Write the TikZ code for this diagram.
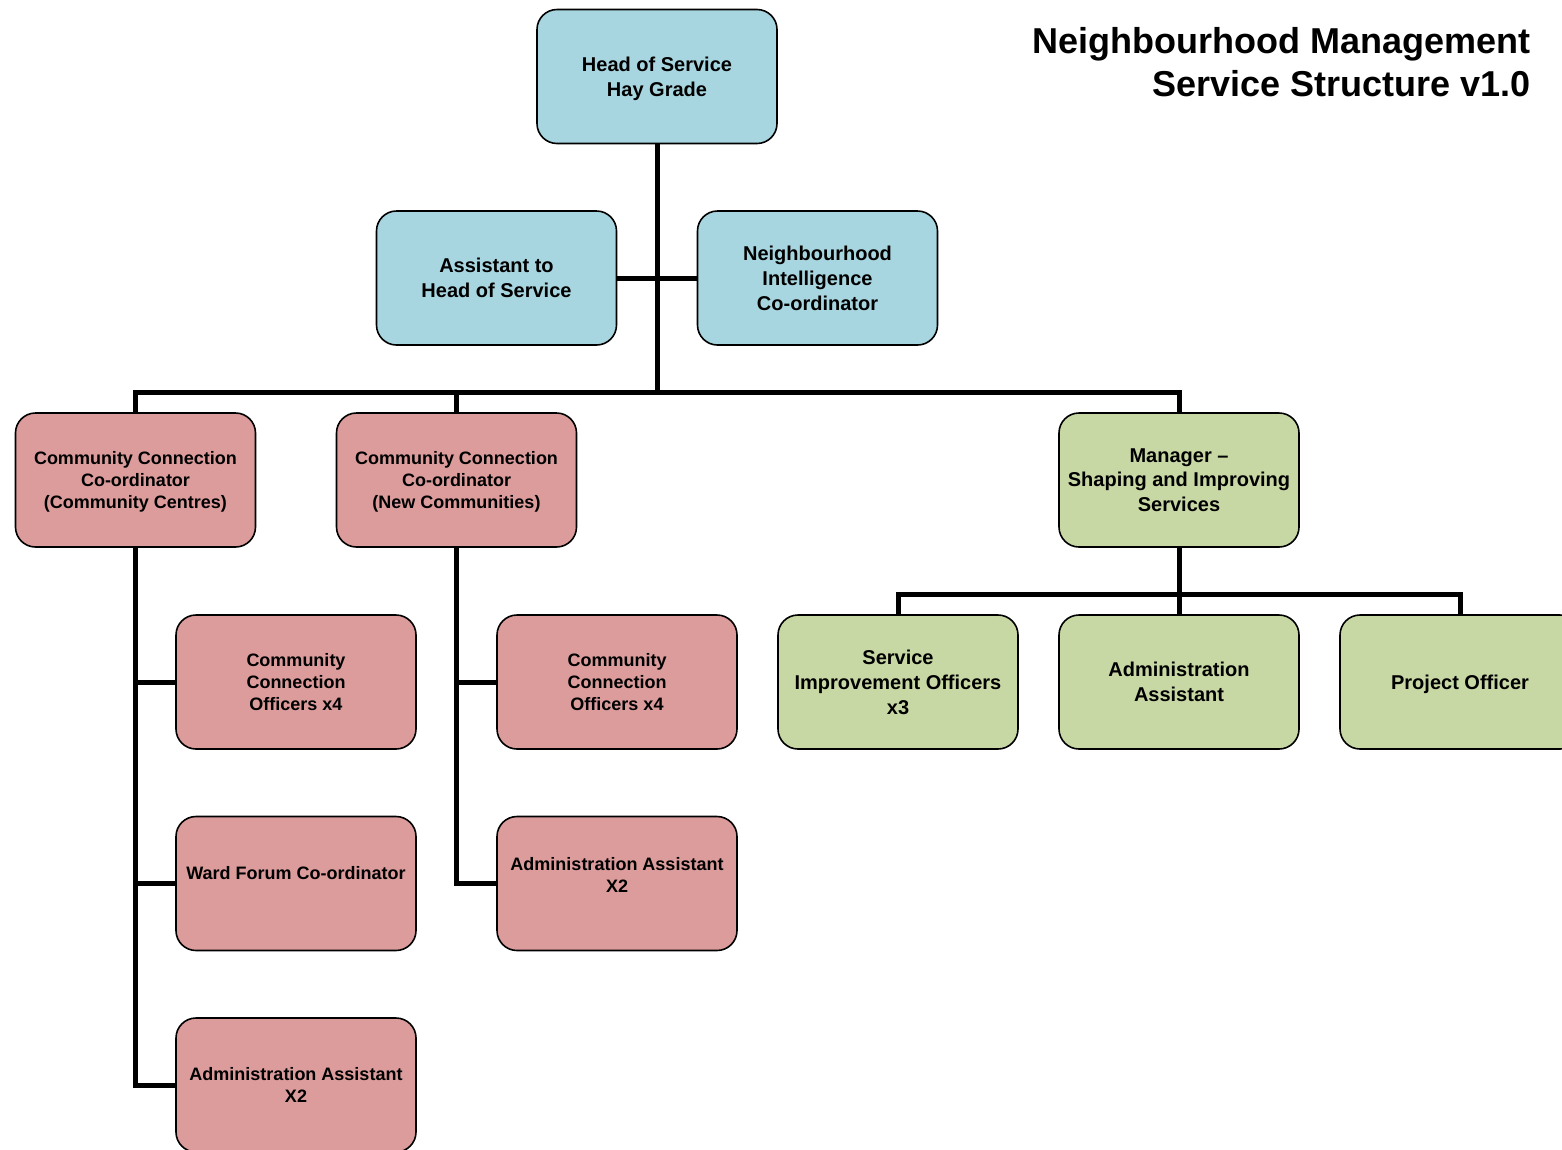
\documentclass[tikz,border=0pt]{standalone}
\usepackage{fontspec}
\setmainfont{Liberation Sans}
\definecolor{bluebox}{RGB}{168,214,224}
\definecolor{pinkbox}{RGB}{220,156,156}
\definecolor{greenbox}{RGB}{200,216,164}
\tikzset{
  orgbox/.style={draw=black, line width=1.6pt, rounded corners=20pt,
    minimum width=240pt, minimum height=134pt, inner sep=2pt, align=center,
    text=black, text depth=0pt},
  bigtxt/.style={font=\fontsize{20}{24.8}\selectfont\bfseries},
  smalltxt/.style={font=\fontsize{18}{22}\selectfont\bfseries},
  bluestyle/.style={orgbox, fill=bluebox, bigtxt},
  pinkstyle/.style={orgbox, fill=pinkbox, smalltxt},
  greenstyle/.style={orgbox, fill=greenbox, bigtxt},
  conn/.style={line width=5pt, draw=black},
}
\begin{document}
\begin{tikzpicture}[x=1pt, y=-1pt]
\useasboundingbox (0,0) rectangle (1562,1149);

% title
\node[anchor=east, align=right, inner sep=0pt,
  font=\fontsize{36}{43}\selectfont\bfseries] (title) at (1531,62.5)
  {Neighbourhood Management\\Service Structure v1.0};

% connectors (drawn first, boxes on top)
\coordinate (bus) at (657,392);
\coordinate (mbus) at (1179,594);

% boxes
\node[bluestyle] (head) at (657,76.5) {Head of Service\\Hay Grade};
\node[bluestyle] (asst) at (496.5,278) {Assistant to\\Head of Service};
\node[bluestyle] (ni) at (817.5,278) {Neighbourhood\\Intelligence\\Co-ordinator};

\node[pinkstyle] (cc1) at (135.5,480) {Community Connection\\Co-ordinator\\(Community Centres)};
\node[pinkstyle] (cc2) at (456.5,480) {Community Connection\\Co-ordinator\\(New Communities)};
\node[greenstyle] (mgr) at (1179,480) {Manager --\\Shaping and Improving\\Services};

\node[pinkstyle] (cco1) at (296,682) {Community\\Connection\\Officers x4};
\node[pinkstyle] (cco2) at (617,682) {Community\\Connection\\Officers x4};
\node[greenstyle] (sio) at (898,682) {Service\\Improvement Officers\\x3};
\node[greenstyle] (aag) at (1179,682) {Administration\\Assistant};
\node[greenstyle] (po) at (1460,682) {Project Officer};

\node[pinkstyle, label={[name=wardtxt, smalltxt, yshift=10pt]center:Ward Forum Co-ordinator}] (ward) at (296,883.5) {};
\node[pinkstyle, label={[name=aa2txt, smalltxt, align=center, yshift=9pt]center:Administration Assistant\\X2}] (aa2) at (617,883.5) {};
\node[pinkstyle] (aa1) at (296,1085) {Administration Assistant\\X2};

\draw[conn] (head.south) -- (bus);
\draw[conn] (asst.east) -- (ni.west);
\draw[conn] (cc1.north) -- (cc1.north |- bus) -- (mgr.north |- bus) -- (mgr.north);
\draw[conn] (cc2.north |- bus) -- (cc2.north);

\draw[conn] (cc1.south) -- (cc1.south |- aa1.west) -- (aa1.west);
\draw[conn] (cc1.south |- cco1.west) -- (cco1.west);
\draw[conn] (cc1.south |- ward.west) -- (ward.west);

\draw[conn] (cc2.south) -- (cc2.south |- aa2.west) -- (aa2.west);
\draw[conn] (cc2.south |- cco2.west) -- (cco2.west);

\draw[conn] (mgr.south) -- (aag.north);
\draw[conn] (sio.north) -- (sio.north |- mbus) -- (po.north |- mbus) -- (po.north);
\end{tikzpicture}
\end{document}
